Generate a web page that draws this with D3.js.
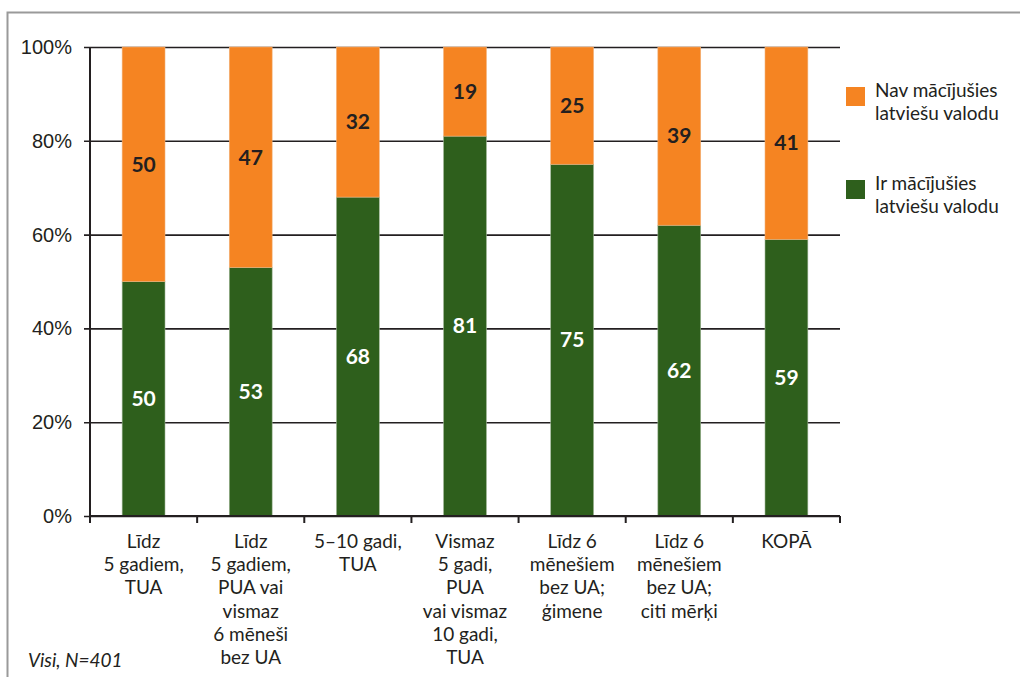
<!DOCTYPE html>
<html>
<head>
<meta charset="utf-8">
<script src="https://cdn.jsdelivr.net/npm/d3@7"></script>
<style>
  html, body { margin: 0; padding: 0; background: #fff; }
  svg { display: block; font-family: Lato, "Open Sans", sans-serif; }
</style>
</head>
<body>
<svg id="chart" width="1020" height="677"></svg>
<script>
// Categories (multi-line labels) and shares, %
const categories = [
  ["Līdz", "5 gadiem,", "TUA"],
  ["Līdz", "5 gadiem,", "PUA vai", "vismaz", "6 mēneši", "bez UA"],
  ["5–10 gadi,", "TUA"],
  ["Vismaz", "5 gadi,", "PUA", "vai vismaz", "10 gadi,", "TUA"],
  ["Līdz 6", "mēnešiem", "bez UA;", "ģimene"],
  ["Līdz 6", "mēnešiem", "bez UA;", "citi mērķi"],
  ["KOPĀ"]
];
const learned = [50, 53, 68, 81, 75, 62, 59];      // Ir mācījušies latviešu valodu
const notLearned = [50, 47, 32, 19, 25, 39, 41];   // Nav mācījušies latviešu valodu
const yTicks = [0, 20, 40, 60, 80, 100];
const seriesNames = ["Nav mācījušies latviešu valodu", "Ir mācījušies latviešu valodu"];
const note = "Visi, N=401";

const colors = { learned: "#2e5f1c", notLearned: "#f58422", ink: "#231f20" };

const svg = d3.select("#chart");
const margin = { left: 90, right: 180, top: 47, bottom: 161 };
const W = 1020, H = 677;
const plotW = W - margin.left - margin.right;
const plotH = H - margin.top - margin.bottom;

// outer frame (top and left edges visible)
svg.append("path")
  .attr("d", `M7.5,${H} V12.5 H${W}`)
  .attr("fill", "none").attr("stroke", "#9a9a9a").attr("stroke-width", 2);

const g = svg.append("g").attr("transform", `translate(${margin.left},${margin.top})`);

const x = d3.scaleBand().domain(d3.range(categories.length)).range([0, plotW]).paddingInner(0.6).paddingOuter(0.3);
const y = d3.scaleLinear().domain([0, 100]).range([plotH, 0]);

// y axis with gridlines spanning the plot
const yAxis = g.append("g")
  .call(d3.axisLeft(y).tickValues(yTicks).tickFormat(d => d + "%").tickSize(6).tickPadding(12));
yAxis.select(".domain").remove();
yAxis.selectAll(".tick line")
  .attr("x1", -6).attr("x2", plotW)
  .attr("stroke", colors.ink).attr("stroke-width", 1.6);
yAxis.selectAll(".tick text")
  .attr("x", -18)
  .attr("fill", colors.ink).style("font-size", "20px");

// stacked bars with value labels
const bars = g.append("g");
learned.forEach((v, i) => {
  const bx = x(i), bw = x.bandwidth();
  bars.append("rect")
    .attr("x", bx).attr("width", bw)
    .attr("y", y(v)).attr("height", y(0) - y(v))
    .attr("fill", colors.learned).attr("stroke", "#9fb596").attr("stroke-width", 0.6);
  bars.append("rect")
    .attr("x", bx).attr("width", bw)
    .attr("y", y(100)).attr("height", y(v) - y(100))
    .attr("fill", colors.notLearned).attr("stroke", "#f2b27a").attr("stroke-width", 0.6);

  g.append("text")
    .attr("x", bx + bw / 2).attr("y", (y(0) + y(v)) / 2)
    .attr("dy", "0.35em").attr("text-anchor", "middle")
    .attr("fill", "#fff").style("font-weight", "700").style("font-size", "21px")
    .text(v);
  g.append("text")
    .attr("x", bx + bw / 2).attr("y", (y(v) + y(100)) / 2)
    .attr("dy", "0.35em").attr("text-anchor", "middle")
    .attr("fill", colors.ink).style("font-weight", "700").style("font-size", "21px")
    .text(notLearned[i]);
});

// y axis line
g.append("line").attr("x1", 0).attr("x2", 0).attr("y1", 0).attr("y2", plotH)
  .attr("stroke", colors.ink).attr("stroke-width", 2);

// x axis with ticks at category boundaries
g.append("line").attr("x1", 0).attr("x2", plotW).attr("y1", plotH).attr("y2", plotH)
  .attr("stroke", colors.ink).attr("stroke-width", 2);
g.selectAll(".xtick").data(d3.range(categories.length + 1)).join("line")
  .attr("class", "xtick")
  .attr("x1", k => k * plotW / categories.length).attr("x2", k => k * plotW / categories.length)
  .attr("y1", plotH).attr("y2", plotH + 7)
  .attr("stroke", colors.ink).attr("stroke-width", 2);

// category labels
categories.forEach((lines, i) => {
  const cx = x(i) + x.bandwidth() / 2;
  const t = g.append("text")
    .attr("x", cx).attr("y", plotH + 32)
    .attr("text-anchor", "middle").attr("fill", colors.ink).style("font-size", "19px");
  lines.forEach((ln, j) => {
    t.append("tspan").attr("x", cx).attr("dy", j === 0 ? 0 : 23.2).text(ln);
  });
});

// legend
const legend = svg.append("g").attr("transform", "translate(846,87)");
const legendItems = [
  { name: seriesNames[0], color: colors.notLearned },
  { name: seriesNames[1], color: colors.learned }
];
legendItems.forEach((d, i) => {
  const lg = legend.append("g").attr("transform", `translate(0,${i * 93})`);
  lg.append("rect").attr("width", 19).attr("height", 19).attr("fill", d.color);
  const words = d.name.split(" ");
  const t = lg.append("text").attr("x", 29).attr("y", 10).attr("fill", colors.ink).style("font-size", "19px");
  t.append("tspan").attr("x", 29).text(words.slice(0, 2).join(" "));
  t.append("tspan").attr("x", 29).attr("dy", 23.2).text(words.slice(2).join(" "));
});

// footnote
svg.append("text").attr("x", 28).attr("y", 667)
  .attr("fill", colors.ink).style("font-size", "19px").style("font-style", "italic")
  .text(note);
</script>
</body>
</html>
